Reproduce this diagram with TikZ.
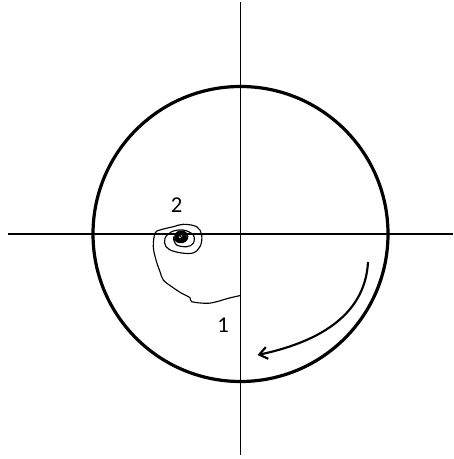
\documentclass[tikz,border=0pt]{standalone}
\usepackage{fontspec}
\setmainfont{Carlito}
\usetikzlibrary{arrows.meta}

\begin{document}
\begin{tikzpicture}[x=0.75pt,y=0.75pt,
  axis/.style={line width=1.1pt},
  rim/.style={line width=2.4pt},
  track/.style={line width=0.85pt,line join=round},
  spin/.style={line width=1.6pt,-{Straight Barb[length=6pt,width=9pt]}},
  lbl/.style={font=\fontsize{17}{20}\selectfont}]
\useasboundingbox (-240.5,-225) rectangle (212.5,234);

% axes and disc
\coordinate (o) at (0,0);
\draw[axis] (0,232) -- (0,-221);
\draw[axis] (-232.5,0) -- (212.5,0);
\draw[rim] (o) circle[radius=147.5];

% labels
\node[lbl] (two) at (-64,29) {2};
\node[lbl] (one) at (-17.5,-91) {1};

% rotation arrow
\coordinate (arrs) at (127.5,-28);
\coordinate (arre) at (17,-121);
\draw[spin] (arrs) to[out=-93,in=12] (arre);

% path of the point
\draw[track] plot[smooth,tension=0.6] coordinates {
  (0,-61.5) (-12.2,-64.3) (-23.8,-67.7) (-33.8,-69.3) (-48.8,-67.7)
  (-50.5,-63.7) (-58.8,-59.3) (-68.8,-52.7) (-77.2,-46) (-80.5,-37.7)
  (-84.5,-26) (-87.2,-12.7) (-85.5,0.7) (-80.5,4) (-67.2,7.3)
  (-57.2,9.7) (-43.8,7.3) (-38.8,-1) (-40.5,-12.7) (-48.8,-19.3)
  (-65.5,-17.7) (-74.5,-12.7) (-75.5,-4.3) (-68.8,2.3) (-57.2,4)
  (-47.2,-1) (-47.2,-9.3) (-53.8,-12.7) (-63.8,-11) (-67.2,-4.3)};
\draw[track] plot[smooth,domain=180:1620,samples=90,variable=\t]
  ({-59.5+(7.5-(\t-180)/240)*cos(\t)},{-2.5+(6.5-(\t-180)/280)*sin(\t)});
\draw[track] (-61,-1) -- (-57,-6) (-58,0) -- (-57,-8);
\end{tikzpicture}
\end{document}
